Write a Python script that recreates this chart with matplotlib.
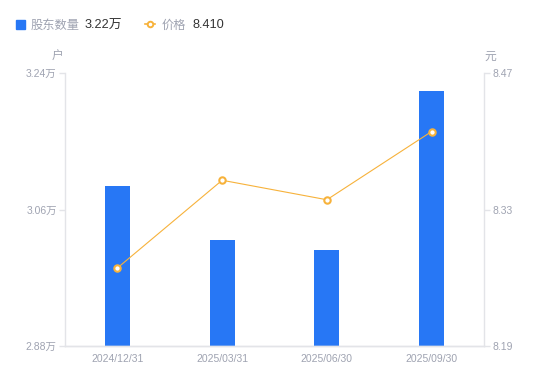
import matplotlib.pyplot as plt
from matplotlib.lines import Line2D

plt.rcParams['font.family'] = ['Liberation Sans', 'Noto Sans CJK SC', 'DejaVu Sans']

dates = ['2024/12/31', '2025/03/31', '2025/06/30', '2025/09/30']
holders = [3.091, 3.020, 3.007, 3.216]   # 万户
price = [8.27, 8.36, 8.34, 8.41]
left_ticks = [2.88, 3.06, 3.24]
right_ticks = [8.19, 8.33, 8.47]

blue = '#2777f5'
orange = '#f7b23b'
gray = '#9fa3b1'
axis_gray = '#e3e4e8'

fig = plt.figure(figsize=(5.5, 3.81), dpi=100)
ax1 = fig.add_axes([65/550, 35/381, 419/550, 273/381])
ax2 = ax1.twinx()

x = list(range(len(dates)))
ax1.bar(x, holders, width=0.24, color=blue, zorder=2)
ax1.set_ylim(left_ticks[0], left_ticks[-1])
ax1.set_xlim(-0.5, len(dates) - 0.5)
ax1.set_yticks(left_ticks)
ax1.set_yticklabels([f'{v:.2f}万' for v in left_ticks])
ax1.set_xticks(x)
ax1.set_xticklabels(dates)

ax2.plot(x, price, color=orange, lw=0.8, marker='o', ms=4.6, mfc='white',
         mec=orange, mew=1.5, zorder=3)
ax2.set_ylim(right_ticks[0], right_ticks[-1])
ax2.set_yticks(right_ticks)
ax2.set_yticklabels([f'{v:.2f}' for v in right_ticks])

for ax in (ax1, ax2):
    ax.spines['top'].set_visible(False)
    for s in ('left', 'right', 'bottom'):
        ax.spines[s].set_color(axis_gray)
        ax.spines[s].set_linewidth(1)
    ax.tick_params(axis='y', colors=axis_gray, labelcolor=gray, labelsize=7.5,
                   length=4, width=1, pad=2)
ax1.tick_params(axis='x', length=0, labelcolor=gray, labelsize=7.5, pad=6)
ax1.spines['right'].set_visible(False)
ax2.spines['left'].set_visible(False)

fig.text(58/550, 1 - 57/381, '户', color=gray, fontsize=8.5, ha='center', va='center')
fig.text(490/550, 1 - 57/381, '元', color=gray, fontsize=8.5, ha='center', va='center')

# legend
ly = 1 - 24/381
fig.patches.append(plt.Rectangle((16/550, ly - 4.5/381), 9/550, 9/381,
                                 color=blue, transform=fig.transFigure, figure=fig))
ty = 1 - 25.5/381
fig.text(31/550, ty, '股东数量', color=gray, fontsize=8.8, va='center')
fig.text(85/550, ty, '3.22万', color='#333333', fontsize=9.2, va='center')
fig.lines.append(Line2D([145/550, 155/550], [ly, ly], color=orange, lw=1.2,
                        transform=fig.transFigure))
fig.lines.append(Line2D([150/550], [ly], color=orange, marker='o', ms=4, mfc='white',
                        mew=1.4, transform=fig.transFigure))
fig.text(162/550, ty, '价格', color=gray, fontsize=8.8, va='center')
fig.text(192/550, ty, '8.410', color='#333333', fontsize=9.2, va='center')

fig.savefig('out.png', dpi=100)
